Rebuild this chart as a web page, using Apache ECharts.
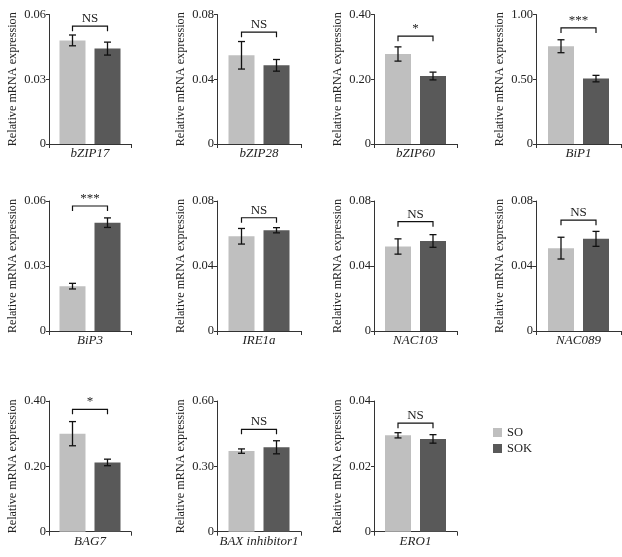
<!DOCTYPE html>
<html>
<head>
<meta charset="utf-8">
<script src="https://cdn.jsdelivr.net/npm/echarts@6/dist/echarts.min.js"></script>
<style>
html,body{margin:0;padding:0;background:#fff;}
#chart{width:622px;height:557px;}
</style>
</head>
<body>
<div id="chart"></div>
<script>
// ---- data ----
const genes = ['bZIP17','bZIP28','bZIP60','BiP1','BiP3','IRE1a','NAC103','NAC089','BAG7','BAX inhibitor1','ERO1'];
const soMean  = [0.048, 0.0548, 0.278, 0.755, 0.0207, 0.0583, 0.052, 0.051, 0.30, 0.37, 0.0295];
const soErr   = [0.0025, 0.0085, 0.022, 0.05, 0.0013, 0.0048, 0.0047, 0.0067, 0.037, 0.01, 0.0008];
const sokMean = [0.0442, 0.0486, 0.21, 0.505, 0.050, 0.062, 0.0554, 0.0567, 0.212, 0.3875, 0.0284];
const sokErr  = [0.003, 0.0036, 0.012, 0.025, 0.0022, 0.0016, 0.0039, 0.0046, 0.01, 0.03, 0.0013];
const sigLabel = ['NS','NS','*','***','***','NS','NS','NS','*','NS','NS'];
const bracketLevel = [0.0546, 0.0691, 0.333, 0.896, 0.0577, 0.0697, 0.0673, 0.0682, 0.3745, 0.47, 0.0332];
const yMax = [0.06, 0.08, 0.40, 1.00, 0.06, 0.08, 0.08, 0.08, 0.40, 0.60, 0.04];
const seriesNames = ['SO','SOK'];
const yAxisTitle = 'Relative mRNA expression';

// ---- layout / style ----
const FONT = "'Liberation Serif','Times New Roman',serif";
const colLeft = [49, 217, 374, 536];
const colWidth = [82, 84, 83, 85];
const rowTop = [14.5, 201, 401];
const rowHeight = [129.5, 130, 130.7];
const BAR_W = 26, BAR_GAP_PX = 9;
const OFFSET = (BAR_W + BAR_GAP_PX) / 2;
const colors = ['#bfbfbf', '#595959'];

const grids = [], xAxes = [], yAxes = [], series = [];
genes.forEach((g, i) => {
  const r = Math.floor(i / 4), c = i % 4;
  grids.push({left: colLeft[c], top: rowTop[r], width: colWidth[c], height: rowHeight[r], containLabel: false});
  xAxes.push({
    type: 'category', gridIndex: i, data: [g],
    axisLine: {lineStyle: {color: '#333', width: 1}},
    axisTick: {show: true, length: 4, lineStyle: {color: '#333'}},
    axisLabel: {fontFamily: FONT, fontSize: 13, fontStyle: 'italic', color: '#222', margin: 3}
  });
  yAxes.push({
    type: 'value', gridIndex: i, min: 0, max: yMax[i], interval: yMax[i] / 2,
    name: yAxisTitle, nameLocation: 'middle', nameGap: 30,
    nameTextStyle: {fontFamily: FONT, fontSize: 12.2, color: '#222'},
    splitLine: {show: false},
    axisLine: {show: true, lineStyle: {color: '#333', width: 1}},
    axisTick: {show: true, length: 3, lineStyle: {color: '#333'}},
    axisLabel: {fontFamily: FONT, fontSize: 12.5, color: '#222', margin: 3,
      formatter: v => (Math.abs(v) < 1e-12 ? '0' : v.toFixed(2))}
  });
  const means = [soMean[i], sokMean[i]];
  const errs = [soErr[i], sokErr[i]];
  seriesNames.forEach((nm, k) => {
    series.push({
      type: 'bar', name: nm, xAxisIndex: i, yAxisIndex: i,
      data: [means[k]], barWidth: BAR_W, barGap: (BAR_GAP_PX / BAR_W * 100) + '%',
      itemStyle: {color: colors[k]}, silent: true
    });
  });
  // error bars
  series.push({
    type: 'custom', xAxisIndex: i, yAxisIndex: i, silent: true, z: 5,
    data: [[0, means[0], errs[0], -1], [0, means[1], errs[1], 1]],
    renderItem: (params, api) => {
      const m = api.value(1), e = api.value(2), side = api.value(3);
      const hi = api.coord([0, m + e]);
      const lo = api.coord([0, m - e]);
      const x = hi[0] + side * OFFSET;
      const cap = 3.5;
      const st = {stroke: '#111', lineWidth: 1.3};
      return {type: 'group', children: [
        {type: 'line', shape: {x1: x, y1: hi[1], x2: x, y2: lo[1]}, style: st},
        {type: 'line', shape: {x1: x - cap, y1: hi[1], x2: x + cap, y2: hi[1]}, style: st},
        {type: 'line', shape: {x1: x - cap, y1: lo[1], x2: x + cap, y2: lo[1]}, style: st}
      ]};
    }
  });
  // significance bracket
  series.push({
    type: 'custom', xAxisIndex: i, yAxisIndex: i, silent: true, z: 5,
    data: [[0, bracketLevel[i]]],
    renderItem: (params, api) => {
      const p = api.coord([0, api.value(1)]);
      const x1 = p[0] - OFFSET, x2 = p[0] + OFFSET, y = p[1];
      const st = {stroke: '#111', lineWidth: 1.2, fill: 'none'};
      return {type: 'group', children: [
        {type: 'polyline', shape: {points: [[x1, y + 5], [x1, y], [x2, y], [x2, y + 5]]}, style: st},
        {type: 'text', style: {text: sigLabel[i], x: p[0], y: y - 1, textAlign: 'center', textVerticalAlign: 'bottom',
          font: '13px ' + FONT, fill: '#222'}}
      ]};
    }
  });
});

const chart = echarts.init(document.getElementById('chart'), null, {renderer: 'canvas'});
chart.setOption({
  animation: false,
  backgroundColor: '#fff',
  grid: grids, xAxis: xAxes, yAxis: yAxes, series: series,
  legend: {
    data: seriesNames, orient: 'vertical', left: 488, top: 421,
    icon: 'rect', itemWidth: 9, itemHeight: 9, itemGap: 3, padding: 5,
    textStyle: {fontFamily: FONT, fontSize: 12.5, color: '#222'}
  }
});
</script>
</body>
</html>
